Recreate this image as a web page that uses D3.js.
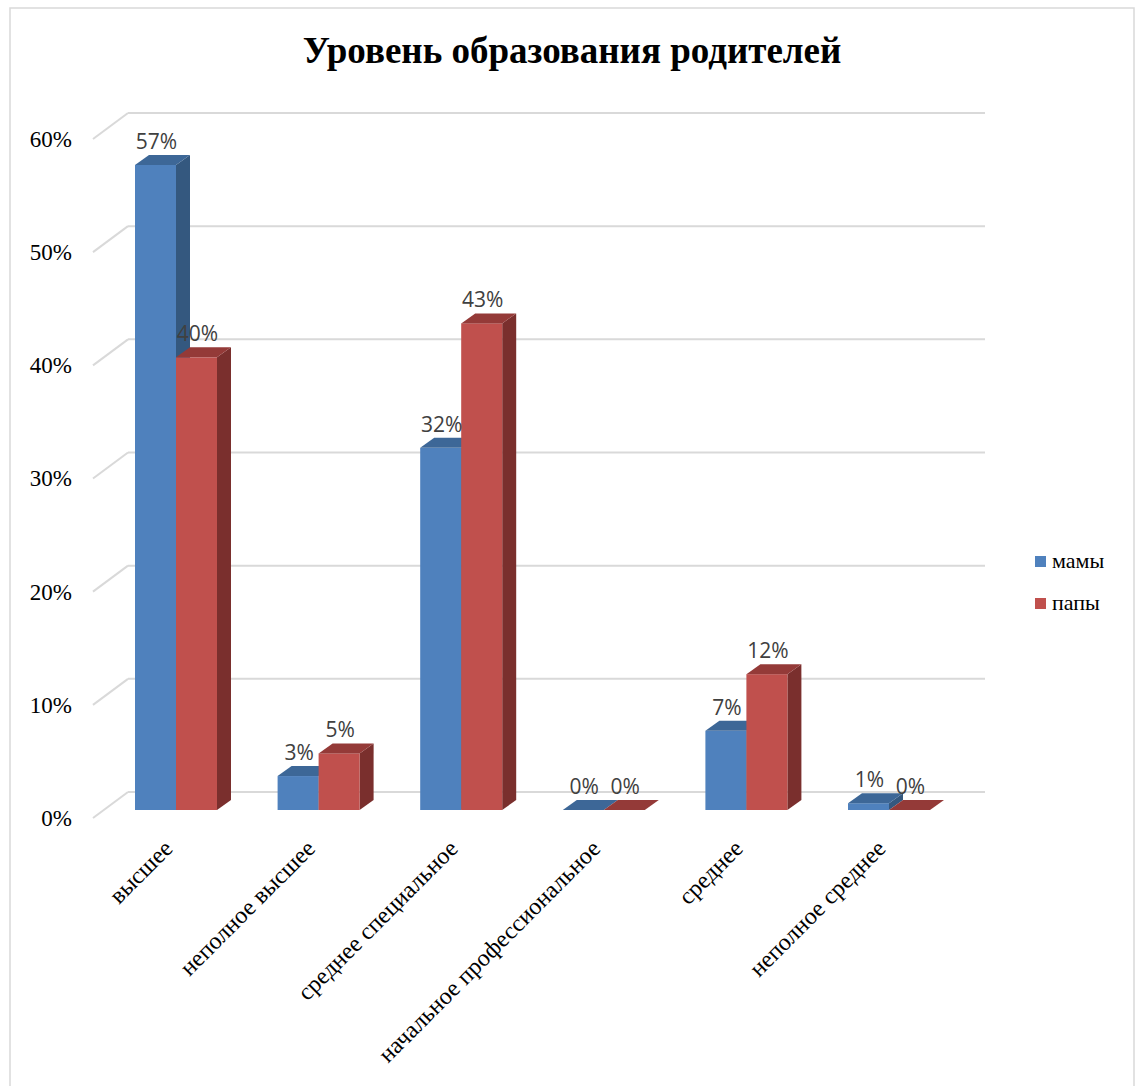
<!DOCTYPE html>
<html><head><meta charset="utf-8">
<script src="https://cdn.jsdelivr.net/npm/d3@7"></script>
<style>body{margin:0;background:#fff}</style>
</head><body>
<svg id="c" width="1136" height="1086"></svg>
<script>
const categories = ["высшее","неполное высшее","среднее специальное","начальное профессиональное","среднее","неполное среднее"];
const seriesNames = ["мамы","папы"];
const moms = [0.57, 0.03, 0.32, 0.0, 0.07, 0.006];
const dads = [0.40, 0.05, 0.43, 0.0, 0.12, 0.0];
const yTicks = [0, 0.1, 0.2, 0.3, 0.4, 0.5, 0.6];
const title = "Уровень образования родителей";

const colors = {
  "мамы": {front:"#4F81BD", top:"#3D6797", side:"#34587F"},
  "папы": {front:"#C0504D", top:"#943A38", side:"#7A2F2D"}
};
const serif = "'Liberation Serif','Times New Roman',serif";
const sans = "'Open Sans','Liberation Sans',sans-serif";

const svg = d3.select("#c");
svg.append("rect").attr("x",10).attr("y",8).attr("width",1124).attr("height",1090)
  .attr("fill","#fff").attr("stroke","#D9D9D9").attr("stroke-width",1.5);

svg.append("text").attr("x",572).attr("y",63).attr("text-anchor","middle")
  .style("font-family",serif).style("font-weight","bold").style("font-size","37px")
  .text(title);

const y = d3.scaleLinear().domain([0,0.6]).range([810,131]);
const x = d3.scaleBand().domain(categories).range([104.7,960.3]).padding(0);
const x1 = d3.scaleBand().domain(seriesNames).range([0,82]).padding(0);
const DX = 14, DY = 10;
const backDY = 26;

const grid = svg.append("g");
yTicks.forEach(t => {
  const yb = y(t) - 18;
  grid.append("line").attr("x1",128).attr("x2",985).attr("y1",yb).attr("y2",yb)
    .attr("stroke","#D9D9D9").attr("stroke-width",2);
  grid.append("line").attr("x1",93).attr("y1",yb+backDY).attr("x2",128).attr("y2",yb)
    .attr("stroke","#D9D9D9").attr("stroke-width",2);
});

const yAxis = svg.append("g").attr("transform","translate(72,8)")
  .call(d3.axisLeft(y).tickValues(yTicks).tickFormat(d3.format(".0%")).tickSize(0).tickPadding(0));
yAxis.select(".domain").remove();
yAxis.selectAll("text").style("font-family",serif).style("font-size","23px").attr("fill","#000");

const data = categories.map((c,i) => ({cat:c, vals:[{s:"мамы",v:moms[i]},{s:"папы",v:dads[i]}]}));
const bars = svg.append("g");
data.forEach(d => {
  const cx = x(d.cat) + x.bandwidth()/2 - 41;
  d.vals.forEach(b => {
    const x0 = cx + x1(b.s), w = x1.bandwidth();
    const yt = y(b.v), yb = y(0);
    const c = colors[b.s];
    const g = bars.append("g");
    g.append("path").attr("d",`M${x0+w},${yt}L${x0+w+DX},${yt-DY}L${x0+w+DX},${yb-DY}L${x0+w},${yb}Z`).attr("fill",c.side);
    g.append("rect").attr("x",x0).attr("y",yt).attr("width",w).attr("height",yb-yt).attr("fill",c.front);
    g.append("path").attr("d",`M${x0},${yt}L${x0+DX},${yt-DY}L${x0+w+DX},${yt-DY}L${x0+w},${yt}Z`).attr("fill",c.top);
  });
});

const labels = svg.append("g");
data.forEach(d => {
  const cx = x(d.cat) + x.bandwidth()/2 - 41;
  d.vals.forEach(b => {
    const x0 = cx + x1(b.s), w = x1.bandwidth();
    labels.append("text").attr("x",x0+w/2+1).attr("y",y(b.v)-16).attr("text-anchor","middle")
      .style("font-family",sans).style("font-size","21px").attr("fill","#404040")
      .text(d3.format(".0%")(b.v));
  });
});

const xAxis = svg.append("g").attr("transform","translate(0,850)")
  .call(d3.axisBottom(x).tickSize(0).tickPadding(0));
xAxis.select(".domain").remove();
xAxis.selectAll("text").attr("y",0).attr("dy",0).attr("text-anchor","end")
  .attr("transform","translate(-2,0) rotate(-45)")
  .style("font-family",serif).style("font-size","24px").attr("fill","#000");

const leg = svg.append("g");
seriesNames.forEach((s,i) => {
  const ly = 556 + i*42;
  leg.append("rect").attr("x",1035).attr("y",ly).attr("width",11).attr("height",11).attr("fill",colors[s].front);
  leg.append("text").attr("x",1052).attr("y",ly+12).style("font-family",serif).style("font-size","22px").text(s);
});
</script>
</body></html>
